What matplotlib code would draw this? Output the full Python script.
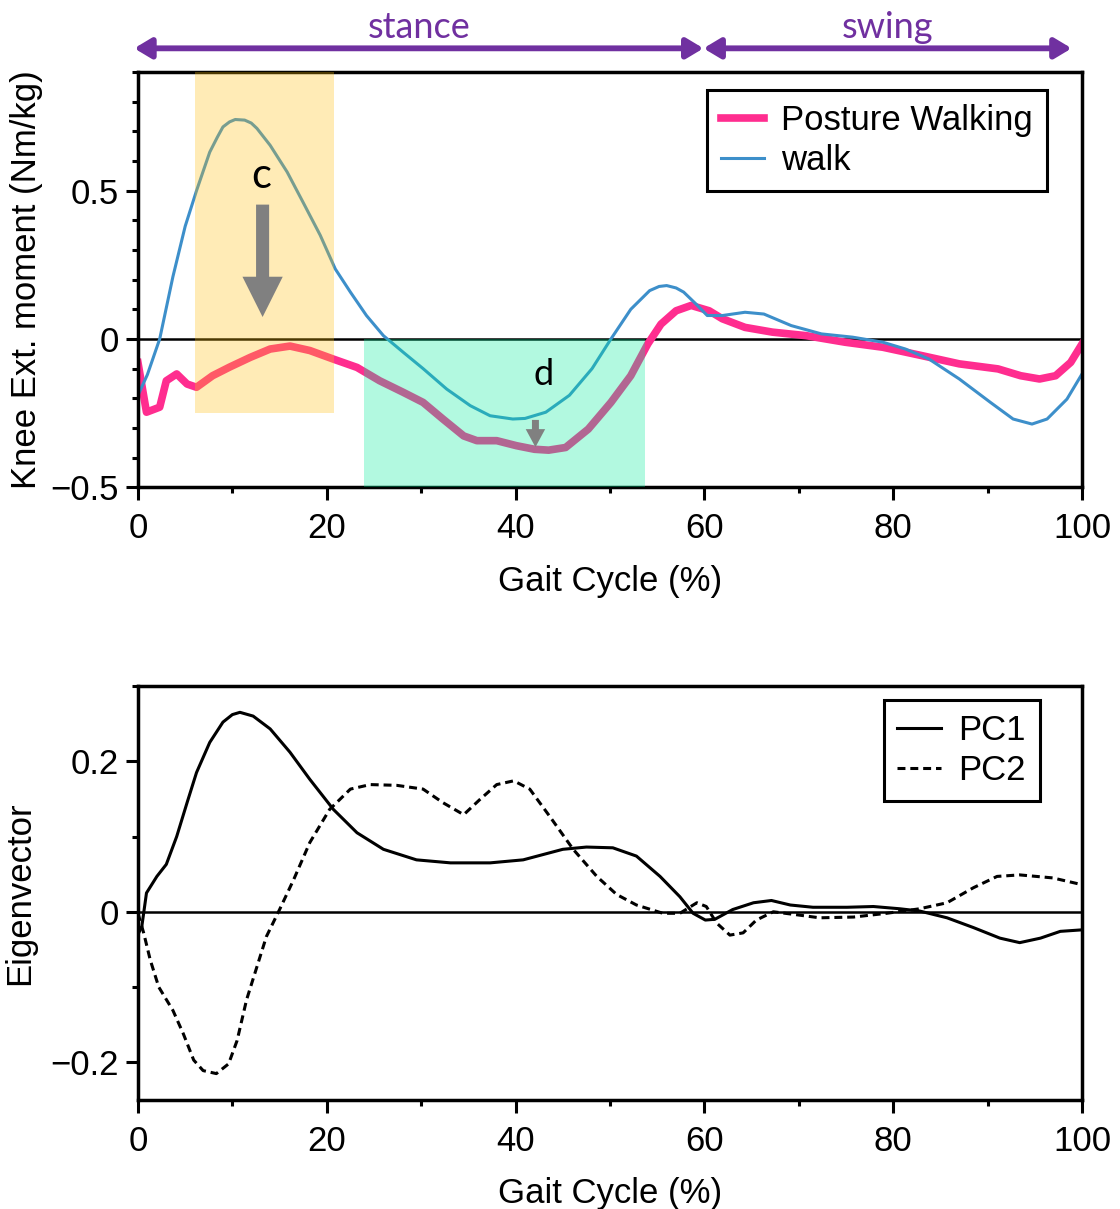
import matplotlib
matplotlib.use("Agg")
import matplotlib.pyplot as plt
from matplotlib.patches import Rectangle
from matplotlib.ticker import MultipleLocator, FuncFormatter

plt.rcParams["font.family"] = ["Liberation Sans", "DejaVu Sans"]
plt.rcParams["font.size"] = 25

# ---------------------------------------------------------------------------
# Knee extension moment over the gait cycle (Nm/kg)
# ---------------------------------------------------------------------------
walk_x = [0, 1, 2.3, 3.7, 5.0, 6.2, 7.6, 8.4, 9.0, 9.7, 10.3, 11.3, 12.0,
          12.6, 14.0, 15.8, 17.5, 19.3, 20.9, 22.5, 24.2, 26.0, 28.1, 30.2,
          32.7, 35.2, 37.3, 39.7, 41.0, 43.2, 45.7, 48.1, 50.1, 52.2, 54.2,
          55.2, 56.0, 57.0, 57.8, 59.1, 60.3, 61.9, 64.3, 66.3, 69.2, 72.4,
          75.7, 78.9, 81.3, 83.8, 87.0, 90.3, 92.7, 94.7, 96.3, 98.4, 100]
walk_y = [-0.19, -0.12, 0.0, 0.21, 0.38, 0.50, 0.63, 0.68, 0.715, 0.732,
          0.74, 0.738, 0.728, 0.71, 0.653, 0.563, 0.46, 0.35, 0.236, 0.158,
          0.079, 0.011, -0.045, -0.10, -0.169, -0.225, -0.259, -0.27, -0.268,
          -0.247, -0.19, -0.10, 0.0, 0.10, 0.163, 0.177, 0.18, 0.172, 0.158,
          0.118, 0.079, 0.079, 0.09, 0.084, 0.045, 0.017, 0.006, -0.011,
          -0.034, -0.068, -0.135, -0.214, -0.27, -0.287, -0.27, -0.203,
          -0.118]

posture_x = [0, 0.9, 2.3, 3.0, 4.1, 5.2, 6.2, 7.9, 9.7, 11.9, 14.0, 16.1,
             18.2, 20.7, 23.2, 25.6, 28.1, 30.2, 32.3, 34.5, 35.9, 38.0, 40.1,
             42.0, 43.5, 45.3, 47.7, 50.1, 52.2, 54.0, 55.4, 57.0, 58.6, 60.5,
             61.9, 64.3, 67.2, 70.8, 74.9, 78.9, 83.0, 87.0, 91.1, 93.5, 95.5,
             97.2, 98.8, 100]
posture_y = [-0.08, -0.247, -0.23, -0.141, -0.118, -0.152, -0.163, -0.124,
             -0.095, -0.062, -0.034, -0.024, -0.039, -0.068, -0.096, -0.141,
             -0.18, -0.214, -0.27, -0.327, -0.343, -0.343, -0.36, -0.372,
             -0.375, -0.366, -0.304, -0.214, -0.124, -0.017, 0.05, 0.095,
             0.113, 0.095, 0.068, 0.039, 0.023, 0.011, -0.011, -0.028, -0.056,
             -0.084, -0.101, -0.124, -0.135, -0.124, -0.079, -0.017]

# ---------------------------------------------------------------------------
# Principal component eigenvectors
# ---------------------------------------------------------------------------
pc1_x = [0, 0.4, 0.9, 2.0, 3.0, 4.1, 5.2, 6.2, 7.6, 9.0, 10.0, 10.8, 12.2,
         14.0, 16.1, 18.2, 20.7, 23.2, 26.0, 29.5, 33.1, 37.3, 40.8, 45.0,
         47.5, 50.3, 52.8, 55.3, 57.4, 58.8, 60.1, 61.1, 63.0, 65.2, 67.1,
         69.1, 71.5, 75.1, 77.9, 80.7, 82.8, 85.7, 88.5, 91.3, 93.4, 95.6,
         97.7, 100]
pc1_y = [-0.03, -0.02, 0.025, 0.047, 0.063, 0.10, 0.145, 0.185, 0.225, 0.252,
         0.262, 0.265, 0.26, 0.243, 0.212, 0.176, 0.136, 0.105, 0.083, 0.069,
         0.065, 0.065, 0.069, 0.083, 0.086, 0.085, 0.074, 0.047, 0.02, -0.002,
         -0.011, -0.01, 0.003, 0.012, 0.015, 0.009, 0.006, 0.006, 0.007,
         0.004, 0.001, -0.008, -0.021, -0.035, -0.041, -0.035, -0.026, -0.024]

pc2_x = [0, 0.6, 1.3, 2.2, 3.7, 4.8, 5.9, 6.9, 8.3, 9.6, 10.5, 11.5, 12.6,
         13.6, 15.0, 16.5, 18.2, 20.3, 22.5, 24.6, 27.4, 30.2, 32.3, 34.5,
         36.2, 38.0, 39.8, 41.5, 43.6, 46.1, 48.6, 50.7, 52.8, 55.6, 57.4,
         59.2, 60.2, 61.3, 62.7, 64.1, 65.5, 67.3, 69.8, 72.2, 75.8, 79.3,
         82.8, 85.7, 88.5, 91.0, 93.4, 96.9, 100]
pc2_y = [-0.002, -0.028, -0.064, -0.10, -0.131, -0.162, -0.197, -0.211,
         -0.215, -0.202, -0.171, -0.117, -0.073, -0.033, 0.003, 0.043, 0.092,
         0.136, 0.163, 0.169, 0.168, 0.163, 0.145, 0.129, 0.149, 0.169, 0.174,
         0.163, 0.127, 0.083, 0.047, 0.023, 0.009, -0.002, -0.002, 0.012,
         0.007, -0.015, -0.031, -0.028, -0.011, 0.0, -0.004, -0.008, -0.007,
         -0.002, 0.004, 0.012, 0.032, 0.047, 0.049, 0.045, 0.036]

# gait phases (% of cycle) and highlighted windows
phase_names = ["stance", "swing"]
phase_bounds = [(-0.4, 59.9), (59.9, 98.9)]
window_c = (6.0, 20.8, -0.25)      # x0, x1, lower y (runs to top of axes)
window_d = (23.9, 53.7, 0.0)       # x0, x1, upper y (runs from bottom of axes)
arrow_c = (13.2, 0.453, 0.074)     # x, tail y, tip y
arrow_d = (42.1, -0.273, -0.365)

PINK = "#ff2d8f"
BLUE = "#3d8fca"
PURPLE = "#7030a0"
GREY = "#808080"

minus_fmt = FuncFormatter(lambda v, p: f"{v:g}".replace("-", "\u2212"))


def style_axes(ax, major_y, minor_y):
    for s in ax.spines.values():
        s.set_linewidth(2.5)
    ax.set_xlim(0, 100)
    ax.xaxis.set_major_locator(MultipleLocator(20))
    ax.xaxis.set_minor_locator(MultipleLocator(10))
    ax.yaxis.set_major_locator(MultipleLocator(major_y))
    ax.yaxis.set_minor_locator(MultipleLocator(minor_y))
    ax.yaxis.set_major_formatter(minus_fmt)
    ax.tick_params(axis="x", which="major", pad=9)
    ax.tick_params(axis="y", which="major", pad=5)
    ax.tick_params(which="major", direction="out", length=9, width=2.2,
                   labelsize=25)
    ax.tick_params(which="minor", direction="out", length=4, width=2.2)
    ax.axhline(0, color="black", lw=1.8, zorder=1.5)
    ax.set_xlabel("Gait Cycle (%)", fontsize=25, labelpad=14)


def boxed_legend(ax, anchor):
    leg = ax.legend(loc="upper right", bbox_to_anchor=anchor,
                    borderaxespad=0, fancybox=False, edgecolor="black",
                    framealpha=1, handlelength=1.25, handletextpad=0.5,
                    labelspacing=0.2, borderpad=0.4, fontsize=25)
    leg.get_frame().set_linewidth(2.2)
    leg.set_zorder(7)
    return leg


fig = plt.figure(figsize=(11.2, 12.09), dpi=100)
ax1 = fig.add_axes([0.1232, 0.597, 0.8429, 0.3434])
ax2 = fig.add_axes([0.1232, 0.0902, 0.8429, 0.3424])

# ---- top panel -------------------------------------------------------------
style_axes(ax1, 0.5, 0.1)
ax1.set_ylim(-0.5, 0.9)
ax1.plot(posture_x, posture_y, color=PINK, lw=5.5, label="Posture Walking",
         solid_joinstyle="round", zorder=2)
ax1.plot(walk_x, walk_y, color=BLUE, lw=2.2, label="walk", zorder=2.1)

ax1.add_patch(Rectangle((window_c[0], window_c[2]), window_c[1] - window_c[0],
                        0.9 - window_c[2], facecolor=(1.0, 0.75, 0.05),
                        alpha=0.3, lw=0, zorder=5))
ax1.add_patch(Rectangle((window_d[0], -0.5), window_d[1] - window_d[0],
                        window_d[2] + 0.5, facecolor=(0.0, 0.93, 0.6),
                        alpha=0.3, lw=0, zorder=5))

for (ax_x, y0, y1), tw, hw, hl in [(arrow_c, 9.4, 29, 29), (arrow_d, 5, 14, 13)]:
    ax1.annotate("", xy=(ax_x, y1), xytext=(ax_x, y0),
                 arrowprops=dict(arrowstyle=f"simple,head_length={hl},"
                                 f"head_width={hw},tail_width={tw}",
                                 mutation_scale=1, color=GREY, lw=0,
                                 shrinkA=0, shrinkB=0), zorder=6)
ax1.text(13.0, 0.55, "c", fontsize=30, family="Lato", ha="center",
         va="center", zorder=6)
ax1.text(43.0, -0.12, "d", fontsize=26, family="Lato", ha="center",
         va="center", zorder=6)

# stance / swing span arrows above the panel
for name, (x0, x1) in zip(phase_names, phase_bounds):
    ax1.annotate("", xy=(x1, 0.98), xytext=(x0, 0.98), xycoords="data",
                 annotation_clip=False,
                 arrowprops=dict(arrowstyle="<|-|>,head_length=10,head_width=6",
                                 mutation_scale=1, color=PURPLE, lw=4.2,
                                 shrinkA=0, shrinkB=0))
    ax1.text((x0 + x1) / 2, 1.05, name, fontsize=26, family="Lato",
             color=PURPLE, ha="center", va="center", clip_on=False)

ax1.set_ylabel("Knee Ext. moment (Nm/kg)", fontsize=25, labelpad=5)
boxed_legend(ax1, (0.963, 0.957))

# ---- bottom panel ----------------------------------------------------------
style_axes(ax2, 0.2, 0.1)
ax2.set_ylim(-0.25, 0.3)
ax2.plot(pc1_x, pc1_y, color="black", lw=2.2, label="PC1")
ax2.plot(pc2_x, pc2_y, color="black", lw=2.2, ls=(0, (2.6, 1.6)), label="PC2")
ax2.set_ylabel("Eigenvector", fontsize=25, labelpad=10)
boxed_legend(ax2, (0.955, 0.966))

fig.savefig("out.png", dpi=100)
